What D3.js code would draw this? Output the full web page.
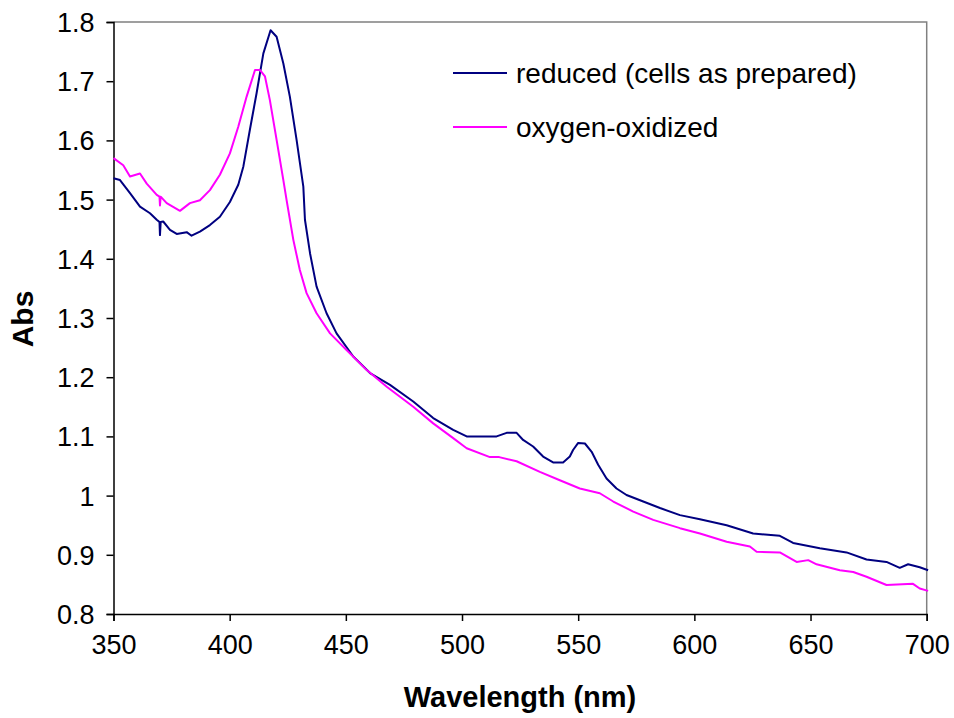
<!DOCTYPE html>
<html><head><meta charset="utf-8">
<script src="https://cdn.jsdelivr.net/npm/d3@7"></script>
<style>body{margin:0;background:#fff}svg{display:block}text{font-family:"Liberation Sans",Arial,sans-serif}</style>
</head><body>
<svg id="chart" width="954" height="718"></svg>
<script>
const seriesNames = ["reduced (cells as prepared)", "oxygen-oxidized"];
const xTicks = [350, 400, 450, 500, 550, 600, 650, 700];
const yTicks = [0.8, 0.9, 1.0, 1.1, 1.2, 1.3, 1.4, 1.5, 1.6, 1.7, 1.8];

const reducedWl = [350,352.8,357.1,361.4,365.7,368.6,369.8,370,370.3,371.4,374.3,377.2,381.5,383.6,387.2,391.5,395.8,400.1,403.7,405.9,408.7,411.6,414.5,417.6,420.2,423.1,425.9,428.8,431.7,432.4,434.6,437.4,441.7,446,453.2,460.4,469,479,487.6,496.2,502,514.9,519.2,523.5,526.3,530.6,534.9,539.2,543.5,546.4,547.8,550,552.9,555.8,558.6,562.2,566.5,570.8,578,585.2,593.8,602.4,613.9,625.3,636.8,642.5,654,665.5,674.1,682.7,688.4,692,697,700.6];
const reducedAbs = [1.536,1.533,1.511,1.488,1.477,1.466,1.462,1.440,1.462,1.463,1.449,1.442,1.445,1.439,1.446,1.457,1.471,1.496,1.525,1.556,1.618,1.680,1.747,1.786,1.775,1.730,1.674,1.601,1.522,1.466,1.409,1.353,1.308,1.274,1.235,1.207,1.187,1.159,1.131,1.111,1.100,1.100,1.106,1.106,1.094,1.083,1.066,1.056,1.056,1.066,1.077,1.089,1.088,1.074,1.052,1.029,1.012,1.001,0.990,0.979,0.967,0.960,0.950,0.936,0.932,0.920,0.911,0.904,0.892,0.888,0.878,0.884,0.879,0.874];

const oxidizedWl = [350,354.2,357.1,361.4,364.3,368.6,369.8,370,370.3,372.9,378.6,382.9,387.2,391.5,395.8,400.1,403.7,407.3,410.9,413,415.2,417.3,420.2,423.1,424.5,427.4,430.2,433.1,437.4,443.2,450.3,459,467.6,479,487.6,496.2,502,512,516,523.5,533.5,542.1,550.7,559.3,565.1,573.7,582.3,593.8,602.4,613.9,623.9,626.8,636.8,644,649,652.6,662.6,668.4,674.1,682.7,694.1,697,700.6];
const oxidizedAbs = [1.570,1.558,1.539,1.544,1.527,1.508,1.505,1.490,1.505,1.494,1.481,1.494,1.499,1.516,1.542,1.578,1.623,1.674,1.719,1.719,1.708,1.668,1.601,1.533,1.499,1.432,1.381,1.342,1.308,1.274,1.246,1.212,1.184,1.150,1.122,1.097,1.080,1.065,1.065,1.058,1.040,1.026,1.012,1.004,0.990,0.973,0.959,0.945,0.936,0.922,0.914,0.905,0.904,0.888,0.891,0.884,0.874,0.871,0.863,0.849,0.851,0.843,0.839];

const colors = ["#000080", "#FF00FF"];
const pL = 113.5, pR = 926.7, pT = 22, pB = 614;
const svg = d3.select("#chart");
const x = d3.scaleLinear().domain([350, 700]).range([pL, pR]);
const y = d3.scaleLinear().domain([0.8, 1.8]).range([pB, pT]);

// plot frame (top & right)
svg.append("path").attr("d", `M${pL},${pT}H${pR}V${pB}`)
  .attr("fill", "none").attr("stroke", "#808080").attr("stroke-width", 1.5);

const fmt = d => (d === 1 ? "1" : d3.format(".1f")(d));
const xAxis = svg.append("g").attr("transform", `translate(0,${pB})`)
  .call(d3.axisBottom(x).tickValues(xTicks).tickSize(7).tickPadding(14).tickFormat(d3.format("d")));
const yAxis = svg.append("g").attr("transform", `translate(${pL},0)`)
  .call(d3.axisLeft(y).tickValues(yTicks).tickSize(7).tickPadding(12).tickFormat(fmt));
[xAxis, yAxis].forEach(g => {
  g.select(".domain").attr("stroke", "#000").attr("stroke-width", 1.5);
  g.selectAll(".tick line").attr("stroke", "#000").attr("stroke-width", 1.5);
  g.selectAll(".tick text").attr("font-size", 27).attr("fill", "#000")
    .attr("font-family", '"Liberation Sans", Arial, sans-serif');
});
yAxis.selectAll(".tick text").attr("dy", "0.35em");

const line = d3.line().x(d => x(d[0])).y(d => y(d[1]));
const data = [d3.zip(reducedWl, reducedAbs), d3.zip(oxidizedWl, oxidizedAbs)];
data.forEach((pts, i) => {
  svg.append("path").datum(pts).attr("d", line)
    .attr("fill", "none").attr("stroke", colors[i]).attr("stroke-width", 2)
    .attr("stroke-linejoin", "round");
});

// legend
const leg = svg.append("g");
seriesNames.forEach((name, i) => {
  const ly = 73 + i * 54;
  leg.append("line").attr("x1", 453).attr("x2", 507).attr("y1", ly).attr("y2", ly)
    .attr("stroke", colors[i]).attr("stroke-width", 2);
  leg.append("text").attr("x", 516).attr("y", ly).attr("dy", "0.35em")
    .attr("font-size", 28).text(name);
});

// axis titles
svg.append("text").attr("x", 520).attr("y", 707)
  .attr("text-anchor", "middle").attr("font-size", 29).attr("font-weight", "bold")
  .text("Wavelength (nm)");
svg.append("text").attr("transform", `translate(33,319) rotate(-90)`)
  .attr("text-anchor", "middle").attr("font-size", 30).attr("font-weight", "bold")
  .text("Abs");
</script>
</body></html>
